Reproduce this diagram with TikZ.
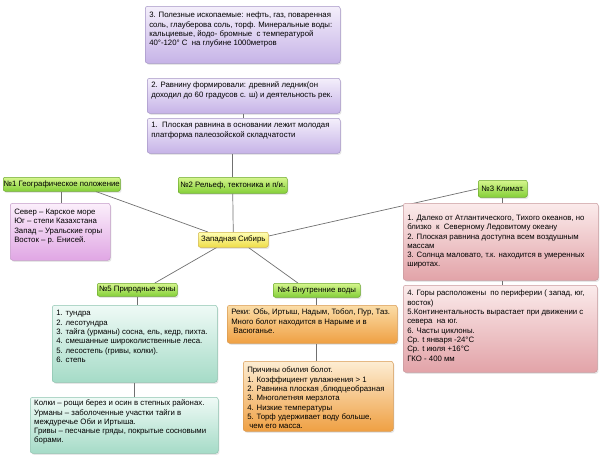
\documentclass[tikz,border=0pt]{standalone}
\usepackage{fontspec}
\setmainfont{Liberation Sans}
\usetikzlibrary{shadows,backgrounds}
\definecolor{purT}{HTML}{F4EFFB}
\definecolor{purD}{HTML}{C6B3E7}
\definecolor{purB}{HTML}{A595C6}
\definecolor{grnT}{HTML}{D6F68E}
\definecolor{grnD}{HTML}{84CF38}
\definecolor{grnB}{HTML}{6CA82E}
\definecolor{vioT}{HTML}{FBEFFB}
\definecolor{vioD}{HTML}{E0A6E4}
\definecolor{vioB}{HTML}{C49AC8}
\definecolor{yelT}{HTML}{FFFFB4}
\definecolor{yelD}{HTML}{EEDD48}
\definecolor{yelB}{HTML}{D2B54A}
\definecolor{rosT}{HTML}{FBEBEB}
\definecolor{rosD}{HTML}{E2A3A8}
\definecolor{rosB}{HTML}{C89A9E}
\definecolor{tealT}{HTML}{EFFAF6}
\definecolor{tealD}{HTML}{A5DBC7}
\definecolor{tealB}{HTML}{8DC3AF}
\definecolor{orT}{HTML}{FBDDA8}
\definecolor{orD}{HTML}{EFA043}
\definecolor{orT2}{HTML}{FDEDD3}
\definecolor{orB}{HTML}{D89A52}
\definecolor{lnk}{HTML}{707070}
\tikzset{
  x=1pt, y=-1pt,
  base/.style={draw, rounded corners=2.5pt, anchor=north west, inner xsep=4pt,
    inner ysep=2pt, line width=0.5pt,
    drop shadow={opacity=0.2, shadow xshift=1.2pt, shadow yshift=-1.5pt},
    font=\fontsize{7.8}{9.3}\selectfont},
  purbox/.style={base, draw=purB, top color=purT, bottom color=purD},
  viobox/.style={base, draw=vioB, top color=vioT, bottom color=vioD},
  rosbox/.style={base, draw=rosB, top color=rosT, bottom color=rosD},
  tealbox/.style={base, draw=tealB, top color=tealT, bottom color=tealD},
  orbox/.style={base, draw=orB, top color=orT, bottom color=orD},
  orbox2/.style={base, draw=orB, top color=orT2, bottom color=orD},
  grnlbl/.style={base, inner sep=0pt, rounded corners=2pt, draw=grnB, top color=grnT, bottom color=grnD},
  yellbl/.style={base, inner sep=0pt, rounded corners=2pt, draw=yelB, top color=yelT, bottom color=yelD},
  link/.style={draw=lnk, line width=0.7pt},
}
\newcommand{\mkbox}[8]{\node[#2, minimum width=#5pt, minimum height=#6pt] (#1) at (#3,#4)
  {\parbox[c][\dimexpr #6pt-4pt\relax][t]{\dimexpr #5pt-8pt\relax}{\raggedright\vspace*{#7pt}\strut #8}};}
\newcommand{\mklbl}[7]{\node[#2, minimum width=#5pt, minimum height=#6pt] (#1) at (#3,#4) {#7};}
\begin{document}
\begin{tikzpicture}
\useasboundingbox (0,0) rectangle (600,458);
\mkbox{b3}{purbox}{145}{6}{195}{57}{3.2}{3. Полезные ископаемые: нефть, газ, поваренная\\соль, глауберова соль, торф. Минеральные воды:\\кальциевые, йодо- бромные\ \ с температурой\\40°-120° С\ \ на глубине 1000метров}
\mkbox{b2}{purbox}{147}{78}{193}{35}{1.2}{2. Равнину формировали: древний ледник(он\\доходил до 60 градусов с. ш) и деятельность рек.}
\mkbox{b1}{purbox}{147}{118}{193}{35}{1.2}{1.\ \ Плоская равнина в основании лежит молодая\\платформа палеозойской складчатости}
\mklbl{n1}{grnlbl}{3}{177}{117}{14}{№1 Географическое положение}
\mklbl{n2}{grnlbl}{178}{177}{109}{16}{№2 Рельеф, тектоника и п/и.}
\mklbl{n3}{grnlbl}{478}{180}{49}{17}{№3 Климат.}
\mklbl{zs}{yellbl}{198}{232}{70}{15}{Западная Сибирь}
\mkbox{g1}{viobox}{10}{203}{100}{57}{2.9}{Север – Карское море\\Юг – степи Казахстана\\Запад – Уральские горы\\Восток – р. Енисей.}
\mkbox{c1}{rosbox}{403}{203}{195}{77}{8.7}{1. Далеко от Атлантического, Тихого океанов, но\\близко\ \ к\ \ Северному Ледовитому океану\\2. Плоская равнина доступна всем воздушным\\массам\\3. Солнца маловато, т.к. находится в умеренных\\широтах.}
\mkbox{c2}{rosbox}{403}{285}{194}{87}{2.2}{4. Горы расположены\ \ по периферии ( запад, юг,\\восток)\\5.Континентальность вырастает при движении с\\севера\ \ на юг.\\6. Часты циклоны.\\Ср. t января -24°С\\Ср. t июля +16°С\\ГКО - 400 мм}
\mklbl{n5}{grnlbl}{97}{283}{80}{13}{№5 Природные зоны}
\mklbl{n4}{grnlbl}{273}{283}{87}{14}{№4 Внутренние воды}
\mkbox{z}{tealbox}{52}{305}{165}{77}{2.2}{1. тундра\\2. лесотундра\\3. тайга (урманы) сосна, ель, кедр, пихта.\\4. смешанные широколиственные леса.\\5. лесостепь (гривы, колки).\\6. степь}
\mkbox{r}{orbox}{227}{305}{170}{38}{1.2}{Реки: Обь, Иртыш, Надым, Тобол, Пур, Таз.\\Много болот находится в Нарыме и в\\\ Васюганье.}
\mkbox{cz}{orbox2}{243}{361}{150}{70}{3.2}{Причины обилия болот.\\1. Коэффициент увлажнения > 1\\2. Равнина плоская ,блюдцеобразная\\3. Многолетняя мерзлота\\4. Низкие температуры\\5. Торф удерживает воду больше,\\\ чем его масса.}
\mkbox{bb}{tealbox}{30}{397}{188}{56}{0}{Колки – рощи берез и осин в степных районах.\\Урманы – заболоченные участки тайги в\\междуречье Оби и Иртыша.\\Гривы – песчаные гряды, покрытые сосновыми\\борами.}
\begin{scope}[on background layer]
\draw[link] (b2.south) -- (b1.north);
\draw[link] (n2.north) -- (n2.north |- b1.south);
\draw[link] (n2.south) -- (zs.north);
\draw[link] (n1.south) -- (n1.south |- g1.north);
\draw[link] (n1.-12) -- (zs.163);
\draw[link] (zs.6) -- (n3.west);
\draw[link] (n3.south) -- (n3.south |- c1.north);
\draw[link] (n3.south |- c1.south) -- (n3.south |- c2.north);
\draw[link] (zs.-155) -- (n5.21);
\draw[link] (zs.-27) -- (n4.159);
\draw[link] (n5.south) -- (n5.south |- z.north);
\draw[link] (z.south) -- (z.south |- bb.north);
\draw[link] (n4.south) -- (n4.south |- r.north);
\draw[link] (n4.south |- r.south) -- (n4.south |- cz.north);
\end{scope}
\end{tikzpicture}
\end{document}
